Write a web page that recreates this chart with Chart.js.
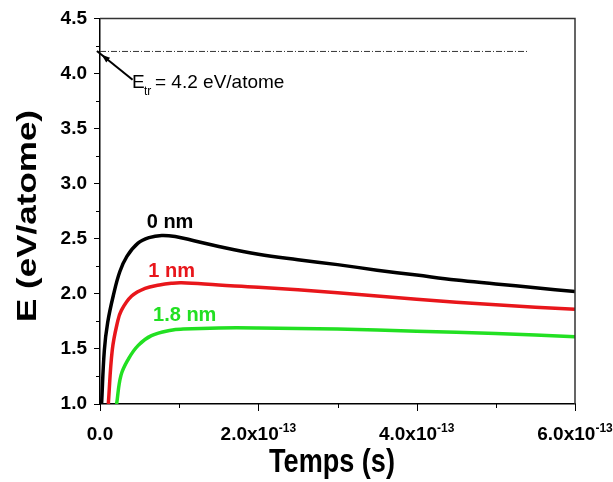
<!DOCTYPE html>
<html>
<head>
<meta charset="utf-8">
<script src="https://cdn.jsdelivr.net/npm/chart.js@4/dist/chart.umd.min.js"></script>
<style>
  html, body { margin: 0; padding: 0; background: #fff; }
  #wrap { width: 613px; height: 482px; }
</style>
</head>
<body>
<div id="wrap"><canvas id="chart" width="613" height="482"></canvas></div>
<script>
// time in units of 1e-13 s, energy in eV/atome
const t0nm = [0.02, 0.055, 0.097, 0.17, 0.25, 0.34, 0.48, 0.62, 0.78, 0.95, 1.2, 1.5, 2.0, 2.5, 3.0, 3.5, 4.0, 4.5, 5.0, 5.5, 6.0];
const e0nm = [1.0, 1.49, 1.74, 1.99, 2.2, 2.34, 2.46, 2.51, 2.53, 2.52, 2.48, 2.43, 2.36, 2.31, 2.265, 2.215, 2.17, 2.125, 2.09, 2.055, 2.02];

const t1nm = [0.105, 0.155, 0.22, 0.27, 0.40, 0.57, 0.75, 0.9, 1.03, 1.5, 2.0, 3.0, 4.0, 5.0, 6.0];
const e1nm = [1.0, 1.49, 1.74, 1.85, 1.98, 2.05, 2.08, 2.095, 2.10, 2.08, 2.06, 2.01, 1.95, 1.90, 1.86];

const t18nm = [0.21, 0.265, 0.36, 0.48, 0.65, 0.9, 1.05, 1.5, 2.0, 3.0, 4.0, 5.0, 6.0];
const e18nm = [1.0, 1.26, 1.41, 1.53, 1.62, 1.67, 1.68, 1.69, 1.69, 1.68, 1.66, 1.64, 1.61];

const thresholdT = [0, 5.4];
const thresholdE = [4.2, 4.2];

const xTicks = [0, 1, 2, 3, 4, 5, 6];
const xLabels = { 0: "0.0", 2: "2.0x10", 4: "4.0x10", 6: "6.0x10" };
const yMinor = [1.25, 1.75, 2.25, 2.75, 3.25, 3.75, 4.25];

const curveLabels = [
  { text: "0 nm", x: 0.59, y: 2.65, color: "#000000" },
  { text: "1 nm", x: 0.61, y: 2.20, color: "#e8161b" },
  { text: "1.8 nm", x: 0.67, y: 1.80, color: "#22e022" }
];

const pts = (xs, ys) => xs.map((x, i) => ({ x: x, y: ys[i] }));

const extras = {
  id: "extras",
  afterDraw(chart) {
    const ctx = chart.ctx;
    const xs = chart.scales.x, ys = chart.scales.y;
    const a = chart.chartArea;
    ctx.save();

    // top and right frame
    ctx.strokeStyle = "#333";
    ctx.lineWidth = 1.5;
    ctx.beginPath();
    ctx.moveTo(a.left, a.top);
    ctx.lineTo(a.right, a.top);
    ctx.lineTo(a.right, a.bottom);
    ctx.stroke();

    // x ticks
    ctx.strokeStyle = "#000";
    ctx.lineWidth = 1;
    xTicks.forEach(v => {
      const px = Math.round(xs.getPixelForValue(v)) + 0.5;
      const len = v % 2 === 0 ? 7 : 4;
      ctx.beginPath();
      ctx.moveTo(px, a.bottom);
      ctx.lineTo(px, a.bottom + len);
      ctx.stroke();
    });
    // y minor ticks
    yMinor.forEach(v => {
      const py = Math.round(ys.getPixelForValue(v)) + 0.5;
      ctx.beginPath();
      ctx.moveTo(a.left - 4, py);
      ctx.lineTo(a.left, py);
      ctx.stroke();
    });

    // x tick labels with exponent
    ctx.fillStyle = "#000";
    ctx.textBaseline = "alphabetic";
    Object.keys(xLabels).forEach(k => {
      const v = Number(k);
      const px = xs.getPixelForValue(v);
      const main = xLabels[k];
      ctx.font = "bold 19px Arial, 'Liberation Sans', sans-serif";
      const wMain = ctx.measureText(main).width;
      let wExp = 0;
      if (v !== 0) {
        ctx.font = "bold 12px Arial, 'Liberation Sans', sans-serif";
        wExp = ctx.measureText("-13").width;
      }
      const start = px - (wMain + wExp) / 2;
      ctx.font = "bold 19px Arial, 'Liberation Sans', sans-serif";
      ctx.textAlign = "left";
      ctx.fillText(main, start, 440);
      if (v !== 0) {
        ctx.font = "bold 12px Arial, 'Liberation Sans', sans-serif";
        ctx.fillText("-13", start + wMain, 432);
      }
    });

    // axis titles (narrowed like the original)
    ctx.font = "bold 33px Arial, 'Liberation Sans', sans-serif";
    ctx.textAlign = "center";
    ctx.textBaseline = "alphabetic";
    ctx.save();
    ctx.translate(332, 472);
    ctx.scale(0.82, 1);
    ctx.fillText("Temps (s)", 0, 0);
    ctx.restore();

    ctx.save();
    ctx.translate(36, 216);
    ctx.rotate(-Math.PI / 2);
    ctx.scale(1, 0.8);
    ctx.font = "bold 35px Arial, 'Liberation Sans', sans-serif";
    ctx.fillText("E (eV/atome)", 0, 0);
    ctx.restore();

    // threshold annotation
    const tipX = xs.getPixelForValue(0.02), tipY = ys.getPixelForValue(4.17);
    const fromX = tipX + 31, fromY = tipY + 25;
    const ang = Math.atan2(tipY - fromY, tipX - fromX);
    ctx.strokeStyle = "#000";
    ctx.lineWidth = 2;
    ctx.beginPath();
    ctx.moveTo(fromX, fromY);
    ctx.lineTo(tipX + 6 * Math.cos(ang), tipY + 6 * Math.sin(ang));
    ctx.stroke();
    ctx.beginPath();
    ctx.moveTo(tipX, tipY);
    ctx.lineTo(tipX - 9 * Math.cos(ang - 0.35), tipY - 9 * Math.sin(ang - 0.35));
    ctx.lineTo(tipX - 9 * Math.cos(ang + 0.35), tipY - 9 * Math.sin(ang + 0.35));
    ctx.closePath();
    ctx.fill();

    ctx.textAlign = "left";
    ctx.font = "19px Arial, 'Liberation Sans', sans-serif";
    ctx.fillText("E", 132, 88);
    ctx.font = "12px Arial, 'Liberation Sans', sans-serif";
    ctx.fillText("tr", 144, 95);
    ctx.font = "19px Arial, 'Liberation Sans', sans-serif";
    ctx.fillText("= 4.2 eV/atome", 155, 88);

    // curve labels
    ctx.font = "bold 20px Arial, 'Liberation Sans', sans-serif";
    ctx.textBaseline = "middle";
    curveLabels.forEach(l => {
      ctx.fillStyle = l.color;
      ctx.fillText(l.text, xs.getPixelForValue(l.x), ys.getPixelForValue(l.y));
    });

    ctx.restore();
  }
};

new Chart(document.getElementById("chart"), {
  type: "line",
  data: {
    datasets: [
      { data: pts(thresholdT, thresholdE), borderColor: "#333", borderWidth: 1, borderDash: [6, 2, 1, 2], pointRadius: 0, tension: 0 },
      { data: pts(t18nm, e18nm), borderColor: "#22e022", borderWidth: 3.5, pointRadius: 0, tension: 0.4 },
      { data: pts(t1nm, e1nm), borderColor: "#e8161b", borderWidth: 3.5, pointRadius: 0, tension: 0.4 },
      { data: pts(t0nm, e0nm), borderColor: "#000000", borderWidth: 3.5, pointRadius: 0, tension: 0.4 }
    ]
  },
  options: {
    responsive: false,
    animation: false,
    devicePixelRatio: 1,
    layout: { padding: { top: 17, right: 38, left: 0, bottom: 0 } },
    plugins: { legend: { display: false }, tooltip: { enabled: false } },
    scales: {
      x: {
        type: "linear",
        min: 0,
        max: 6,
        ticks: { display: false, stepSize: 1 },
        grid: { display: false },
        border: { display: true, color: "#000", width: 1.5 },
        afterFit: s => { s.height = 78; }
      },
      y: {
        min: 1,
        max: 4.5,
        ticks: {
          stepSize: 0.5,
          color: "#000",
          padding: 7,
          font: { family: "Arial, 'Liberation Sans', sans-serif", size: 19, weight: "bold" },
          callback: v => v.toFixed(1)
        },
        grid: { drawOnChartArea: false, tickLength: 6, color: "#000", lineWidth: 1 },
        border: { display: true, color: "#000", width: 1.5 },
        afterFit: s => { s.width = 100; }
      }
    }
  },
  plugins: [extras]
});
</script>
</body>
</html>
